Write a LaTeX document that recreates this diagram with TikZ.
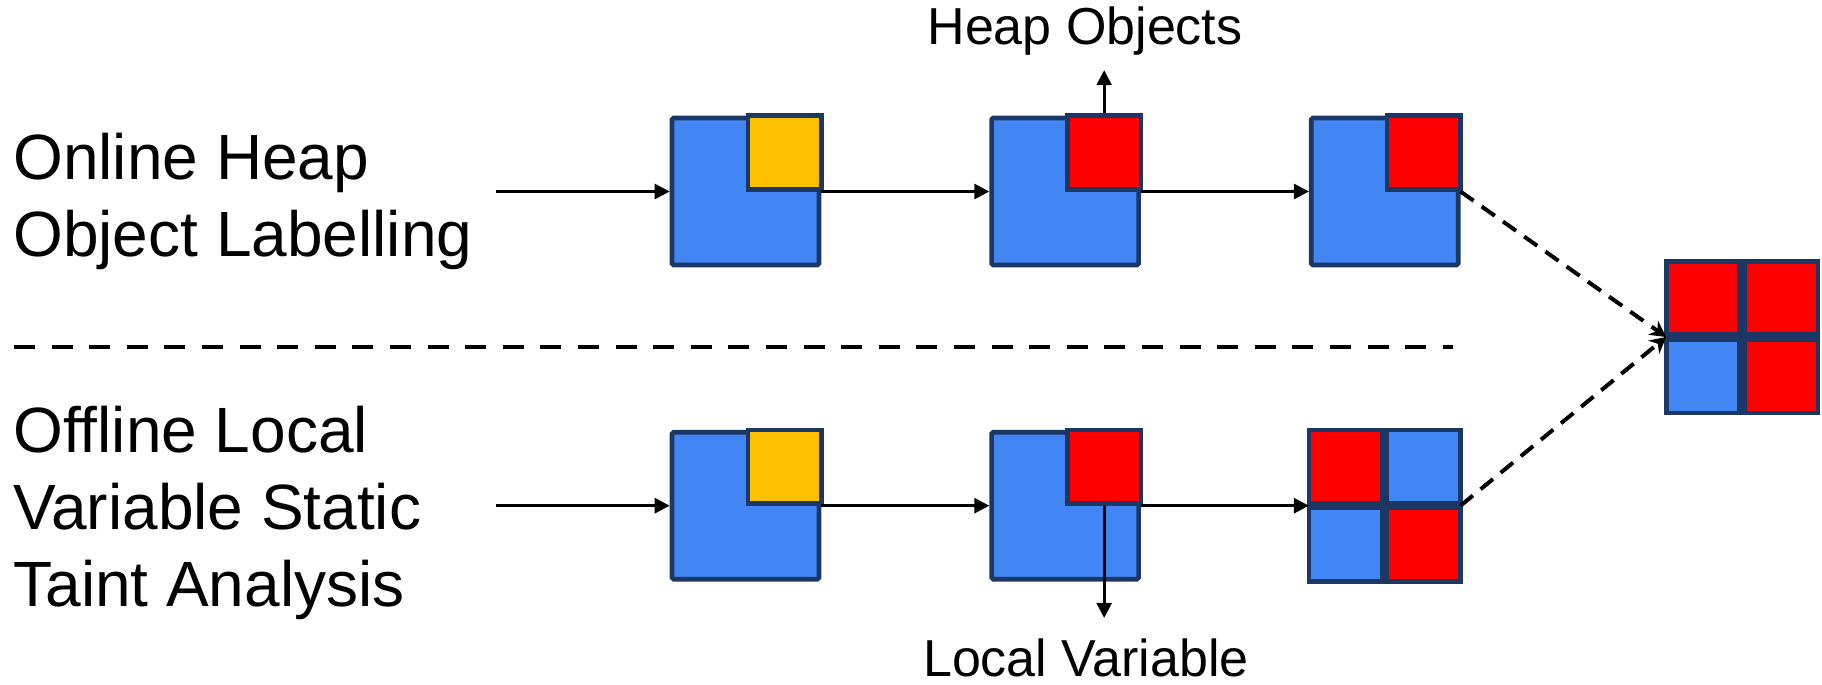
\documentclass[tikz,border=0pt]{standalone}
\usepackage{fontspec}
\setmainfont{Liberation Sans}
\usetikzlibrary{
    arrows.meta,
    positioning
}

\definecolor{cellblue}{RGB}{66,133,244}
\definecolor{edge}{RGB}{28,55,100}
\definecolor{hot}{RGB}{255,0,0}
\definecolor{warm}{RGB}{255,192,0}

\tikzset{
    cell/.style={draw=edge, fill=cellblue, line width=2.3pt,
        minimum size=73.5pt, inner sep=0pt, rounded corners=0.8pt},
    quad/.style={draw=edge, line width=2.3pt,
        minimum size=36.75pt, inner sep=0pt},
    flow/.style={->, line width=1.4pt},
    merge/.style={-{Stealth[length=8pt,width=8.5pt]}, line width=2pt,
        dash pattern=on 8pt off 5pt},
    caption/.style={font=\fontsize{32}{38.5}\selectfont, align=left,
        anchor=north west, inner sep=0pt},
    tag/.style={font=\fontsize{26}{31}\selectfont, anchor=base}
}

\begin{document}
\begin{tikzpicture}[x=0.5pt, y=-0.5pt, >={Triangle[length=7.5pt,width=7.5pt]}]
    \useasboundingbox (0,0) rectangle (1822,685);

    % row labels
    \node[caption] (online)  at (13,133) {Online Heap\\Object Labelling};
    \node[caption] (offline) at (13,406) {Offline Local\\Variable Static\\Taint Analysis};

    % online row
    \node[cell] (t1) at (745.5,191.5) {};
    \node[cell, right=84pt of t1] (t2) {};
    \node[cell, right=84pt of t2] (t3) {};
    \node[quad, fill=warm, anchor=south west] (t1q) at (t1.center) {};
    \node[quad, fill=hot,  anchor=south west] (t2q) at (t2.center) {};
    \node[quad, fill=hot,  anchor=south west] (t3q) at (t3.center) {};

    % offline row
    \node[cell, below=81.3pt of t1] (b1) {};
    \node[cell, right=84pt of b1] (b2) {};
    \node[cell, right=84pt of b2] (b3) {};
    \node[quad, fill=warm, anchor=south west] (b1q) at (b1.center) {};
    \node[quad, fill=hot,  anchor=south west] (b2q) at (b2.center) {};
    \node[quad, fill=hot,       anchor=south east] (b3nw) at (b3.center) {};
    \node[quad, fill=cellblue,  anchor=south west] (b3ne) at (b3.center) {};
    \node[quad, fill=cellblue,  anchor=north east] (b3sw) at (b3.center) {};
    \node[quad, fill=hot,       anchor=north west] (b3se) at (b3.center) {};

    % merged result
    \node[cell] (fin) at (1742,337) {};
    \node[quad, fill=hot,      anchor=south east] (fnw) at (fin.center) {};
    \node[quad, fill=hot,      anchor=south west] (fne) at (fin.center) {};
    \node[quad, fill=cellblue, anchor=north east] (fsw) at (fin.center) {};
    \node[quad, fill=hot,      anchor=north west] (fse) at (fin.center) {};

    % callouts
    \node[tag, inner sep=7pt]  (heap)  at (1085,45)  {Heap Objects};
    \node[tag, inner sep=10pt] (local) at (1086,676) {Local Variable};

    \coordinate[left=87pt of t1] (in1);
    \coordinate[left=87pt of b1] (in2);

    \draw[flow] (in1) -- (t1);
    \draw[flow] (t1) -- (t2);
    \draw[flow] (t2) -- (t3);
    \draw[flow] (in2) -- (b1);
    \draw[flow] (b1) -- (b2);
    \draw[flow] (b2) -- (b3);

    \draw[flow] (t2q.north) -- (t2q.north |- heap.south);
    \draw[flow] (b2q.south) -- (b2q.south |- local.north);

    \draw[merge] (t3.east) -- (fin.west);
    \draw[merge] (b3.east) -- (fin.west);

    % split between the two stages
    \draw[line width=2.4pt, dash pattern=on 10.5pt off 8.3pt] (14,347) -- (1453,347);
\end{tikzpicture}
\end{document}
